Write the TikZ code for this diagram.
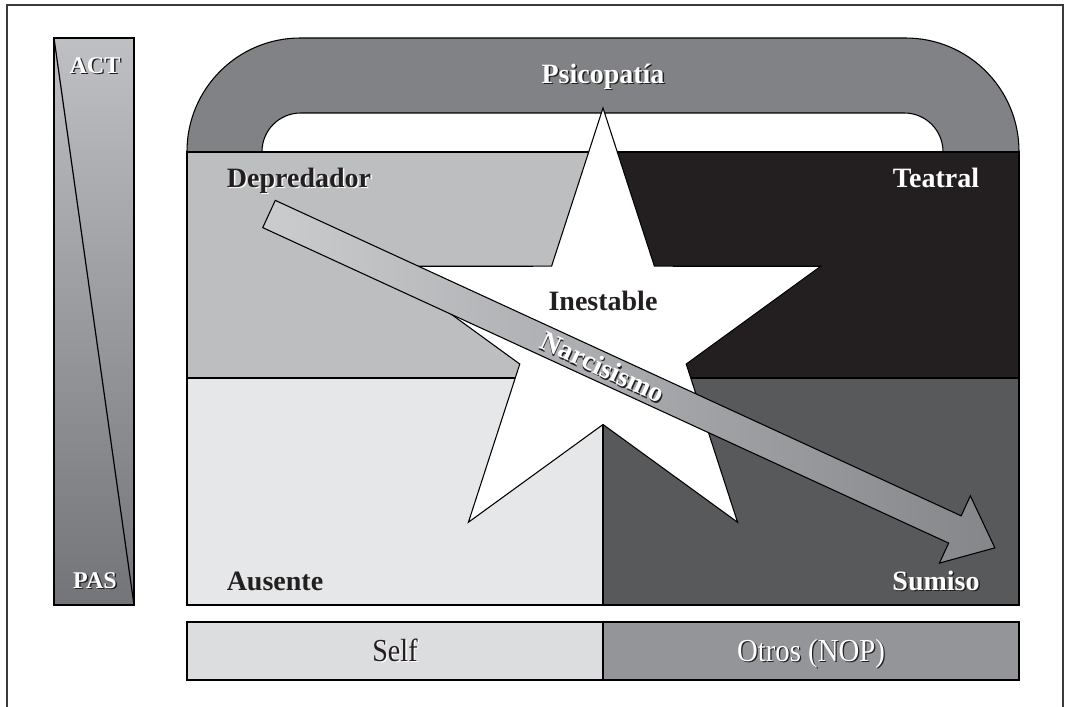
\documentclass[tikz,border=0pt]{standalone}
\usepackage{fontspec}
\setmainfont{Liberation Serif}
\usepackage{graphicx}
\definecolor{archgray}{HTML}{808285}
\definecolor{depgray}{HTML}{BCBEC0}
\definecolor{teablack}{HTML}{231F20}
\definecolor{ausgray}{HTML}{E6E7E8}
\definecolor{sumgray}{HTML}{58595B}
\definecolor{selfgray}{HTML}{DCDDDF}
\definecolor{otrgray}{HTML}{939598}
\definecolor{framegray}{HTML}{3A3A3C}
\definecolor{txtdark}{HTML}{231F20}
\definecolor{bartop}{HTML}{BFC0C3}
\definecolor{barbot}{HTML}{737477}
\definecolor{arrowl}{HTML}{CBCCCE}
\definecolor{arrowr}{HTML}{85868A}
\newcommand{\txtshadow}[2]{\makebox[0pt][l]{\hspace{1.1pt}\raisebox{-1.1pt}{\color{#1}#2}}#2}
\begin{document}
\begin{tikzpicture}[x=0.75pt,y=-0.75pt,
  outline/.style={draw=black, line width=0.8pt},
  lbl/.style={inner sep=0pt, font=\fontsize{21}{24}\selectfont\bfseries, anchor=base},
  lightlbl/.style={lbl, text=white},
  darklbl/.style={lbl, text=txtdark},
  barlbl/.style={inner sep=0pt, font=\fontsize{18}{20}\selectfont\bfseries, anchor=base, text=white},
  boxlbl/.style={inner sep=0pt, font=\fontsize{24}{27}\selectfont, anchor=base}]
\useasboundingbox (0,0) rectangle (1065,707);
% frame
\draw[framegray, line width=1.4pt] (7,707) -- (7,5) -- (1063,5) -- (1063,707);
% ACT / PAS bar
\shade[top color=bartop, bottom color=barbot] (54,38) rectangle (134,605);
\draw[outline] (54,38) rectangle (134,605);
\draw[line width=0.9pt] (54,38) -- (134,605);
\node[barlbl] (act) at (95,73) {\txtshadow{txtdark}{ACT}};
\node[barlbl] (pas) at (95,588) {\txtshadow{txtdark}{PAS}};
% arch
\filldraw[fill=archgray, outline, rounded corners=85pt] (187,38) rectangle (1019,340);
\filldraw[fill=white, outline, rounded corners=29pt] (262,113) rectangle (943,300);
% quadrants
\filldraw[fill=depgray, outline] (187,152) rectangle (603,378);
\filldraw[fill=teablack, outline] (603,152) rectangle (1019,378);
\filldraw[fill=ausgray, outline] (187,378) rectangle (603,605);
\filldraw[fill=sumgray, outline] (603,378) rectangle (1019,605);
% star
\filldraw[fill=white, outline, shift={(603,337)}]
  (270:229) -- (306:87.5) -- (342:229) -- (18:87.5) -- (54:229) -- (90:87.5)
  -- (126:229) -- (162:87.5) -- (198:229) -- (234:87.5) -- cycle;
% arrow
\begin{scope}[shift={(269,214)}, rotate=-24.7]
  \shade[left color=arrowl, right color=arrowr]
    (0,-15) -- (755,-15) -- (755,-37) -- (799,0) -- (755,37) -- (755,15) -- (0,15) -- cycle;
  \draw[outline]
    (0,-15) -- (755,-15) -- (755,-37) -- (799,0) -- (755,37) -- (755,15) -- (0,15) -- cycle;
  \node[lightlbl, anchor=center, transform shape] (narc) at (367,0) {\txtshadow{txtdark}{Narcisismo}};
\end{scope}
% labels
\node[lightlbl] (psi) at (603,83) {\txtshadow{txtdark}{Psicopatía}};
\node[darklbl] (dep) at (299,187) {\txtshadow{white}{Depredador}};
\node[lightlbl] (tea) at (936,187) {\txtshadow{txtdark}{Teatral}};
\node[darklbl] (ine) at (603,310) {Inestable};
\node[darklbl] (aus) at (275,590) {Ausente};
\node[lightlbl] (sum) at (936,590) {\txtshadow{txtdark}{Sumiso}};
% bottom bar
\filldraw[fill=selfgray, outline] (187,622) rectangle (603,680);
\filldraw[fill=otrgray, outline] (603,622) rectangle (1019,680);
\node[boxlbl, text=txtdark] (self) at (395,661) {\scalebox{0.88}[1]{\txtshadow{white}{Self}}};
\node[boxlbl, text=white] (otros) at (811,661) {\scalebox{0.9}[1]{\txtshadow{txtdark}{Otros (NOP)}}};
\end{tikzpicture}
\end{document}
